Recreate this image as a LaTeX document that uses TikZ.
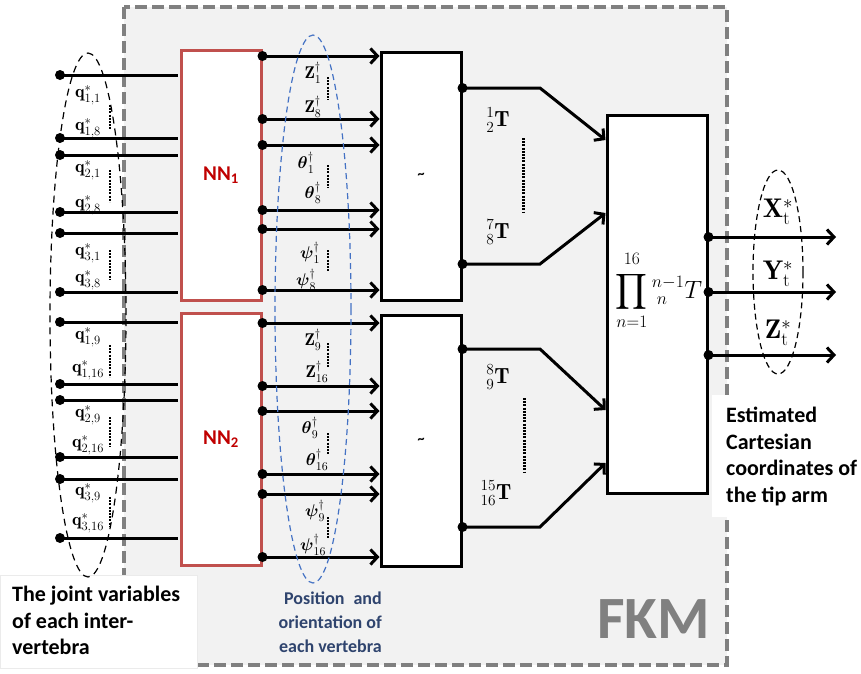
\RequirePackage{fix-cm}
\documentclass[tikz,border=0pt]{standalone}
\usepackage{mathtools}
\usepackage{fontspec}
\usepackage{tikz}
\usetikzlibrary{arrows.meta}
\usetikzlibrary{calc}
\newfontfamily\calibri{Carlito}
\definecolor{nnred}{RGB}{192,80,77}
\definecolor{nntext}{RGB}{192,0,0}
\definecolor{fkmgray}{RGB}{128,128,128}
\definecolor{fkmfill}{RGB}{242,242,242}
\definecolor{posblue}{RGB}{68,114,196}
\definecolor{postext}{RGB}{47,68,110}
\tikzset{
  blockbox/.style={draw=black, line width=3pt, fill=white, minimum width=80pt, inner sep=0pt},
  nnbox/.style={draw=nnred, line width=3pt, fill=white, minimum width=80pt, inner sep=0pt,
    text=nntext, font=\calibri\bfseries\fontsize{21}{24}\selectfont},
  link/.style={line width=3pt, shorten >=1.5pt},
  arrowlink/.style={line width=3pt, -{Straight Barb[length=7pt,width=15pt]}},
  vdots/.style={line width=2.5pt, dash pattern=on 2pt off 1.2pt},
  qlabel/.style={font=\fontsize{18}{20}\selectfont, inner sep=0pt},
  plabel/.style={font=\fontsize{17}{20}\selectfont, inner sep=0pt},
  tlabel/.style={font=\fontsize{22}{24}\selectfont, inner sep=0pt},
  xlabel/.style={font=\fontsize{27}{30}\selectfont, inner sep=0pt},
  note/.style={font=\calibri\bfseries\fontsize{22}{26.6}\selectfont, inner sep=0pt, align=left},
}
\begin{document}
\begin{tikzpicture}[x=1pt,y=-1pt]
\useasboundingbox (0,0) rectangle (861,673);

\draw[fkmgray, line width=4pt, dash pattern=on 12pt off 5pt, fill=fkmfill] (124,7) rectangle (727,665);
\fill[white, draw=black!8, line width=0.5pt] (0,575) rectangle (197,668);
\fill[white] (712,395) rectangle (861,517);

\node[nnbox, minimum height=250pt] (nnA) at (221,175) {NN\textsubscript{1}};
\node[nnbox, minimum height=252pt] (nnB) at (221,439) {NN\textsubscript{2}};
\node[blockbox, minimum height=248pt] (tilA) at (421,176) {\calibri\bfseries\fontsize{14}{14}\selectfont\char`\~};
\node[blockbox, minimum height=251pt] (tilB) at (421,440.5) {\calibri\bfseries\fontsize{14}{14}\selectfont\char`\~};
\node[blockbox, minimum width=100pt, minimum height=378pt] (prod) at (657,304) {};

% joint variables
\foreach \y [count=\i] in {75,138,155,212,233,292}{
  \coordinate (qa\i) at (60,\y);
  \draw[link] (qa\i) -- (qa\i -| nnA.west);
  \fill (qa\i) circle (5pt);
}
\foreach \y [count=\i] in {322,384,400,457,479,538}{
  \coordinate (qb\i) at (60,\y);
  \draw[link] (qb\i) -- (qb\i -| nnB.west);
  \fill (qb\i) circle (5pt);
}

% position and orientation
\foreach \y [count=\i] in {56,119,145,210,229,290}{
  \coordinate (pa\i) at (nnA.east |- 0,\y);
  \draw[arrowlink] (pa\i) -- (pa\i -| tilA.west);
  \fill (pa\i) circle (5pt);
}
\foreach \y [count=\i] in {323,386,411,474,494,557}{
  \coordinate (pb\i) at (nnB.east |- 0,\y);
  \draw[arrowlink] (pb\i) -- (pb\i -| tilB.west);
  \fill (pb\i) circle (5pt);
}

% transformations
\coordinate (ta1) at (tilA.east |- 0,88);
\coordinate (ta2) at (tilA.east |- 0,264);
\coordinate (tb1) at (tilB.east |- 0,349);
\coordinate (tb2) at (tilB.east |- 0,527);
\draw[arrowlink] (ta1) -- (540,88) -- (prod.west |- 0,140);
\draw[arrowlink] (ta2) -- (540,264) -- (prod.west |- 0,213);
\draw[arrowlink] (tb1) -- (540,349) -- (prod.west |- 0,410);
\draw[arrowlink] (tb2) -- (540,527) -- (prod.west |- 0,463);
\foreach \c in {ta1,ta2,tb1,tb2}
  \fill (\c) circle (5pt);

% tip coordinates
\foreach \y/\n in {237/x,292/y,355/z}{
  \coordinate (o\n) at (prod.east |- 0,\y);
  \coordinate (e\n) at (836,\y);
  \draw[arrowlink] (o\n) -- (e\n);
  \fill (o\n) circle (5pt);
}

\draw[dash pattern=on 7pt off 5pt, line width=1.2pt] (88,315) ellipse [x radius=38pt, y radius=262pt];
\draw[posblue, dash pattern=on 6pt off 4pt, line width=1.2pt] (313,309) ellipse [x radius=38pt, y radius=274pt];
\draw[dash pattern=on 6pt off 4pt, line width=1.2pt] (778,272) ellipse [x radius=25pt, y radius=102pt];

\foreach \y/\t in {95/{1,1},128/{1,8},170/{2,1},205/{2,8},253/{3,1},280/{3,8},
                   337/{1,9},370/{1,16},415/{2,9},445/{2,16},493/{3,9},523/{3,16}}
  \node[qlabel] at (88,\y) {$\mathbf{q}^{*}_{\t}$};
\foreach \a/\b in {105/130,170/202,250/280,345/377,417/447,497/527}
  \draw[vdots] (110,\a) -- (110,\b);

\node[plabel] at (313,73) {$\mathbf{Z}^{\dagger}_{1}$};
\node[plabel] at (313,107) {$\mathbf{Z}^{\dagger}_{8}$};
\node[plabel] at (306,163) {$\boldsymbol{\theta}^{\dagger}_{1}$};
\node[plabel] at (313,193) {$\boldsymbol{\theta}^{\dagger}_{8}$};
\node[plabel] at (310,253) {$\boldsymbol{\psi}^{\dagger}_{1}$};
\node[plabel] at (306,280) {$\boldsymbol{\psi}^{\dagger}_{8}$};
\node[plabel] at (313,340) {$\mathbf{Z}^{\dagger}_{9}$};
\node[plabel] at (317,372) {$\mathbf{Z}^{\dagger}_{16}$};
\node[plabel] at (310,428) {$\boldsymbol{\theta}^{\dagger}_{9}$};
\node[plabel] at (317,460) {$\boldsymbol{\theta}^{\dagger}_{16}$};
\node[plabel] at (315,511) {$\boldsymbol{\psi}^{\dagger}_{9}$};
\node[plabel] at (313,545) {$\boldsymbol{\psi}^{\dagger}_{16}$};
\foreach \a/\b in {77/100,165/188,250/272,343/367,433/455,517/538}
  \draw[vdots] (328,\a) -- (328,\b);

\node[tlabel] at (498,120) {$\prescript{1}{2}{\mathbf{T}}$};
\node[tlabel] at (498,232) {$\prescript{7}{8}{\mathbf{T}}$};
\node[tlabel] at (498,377) {$\prescript{8}{9}{\mathbf{T}}$};
\node[tlabel] at (496,493) {$\prescript{15}{16}{\mathbf{T}}$};
\draw[vdots, line width=3pt] (523,138) -- (523,212);
\draw[vdots, line width=3pt] (524,398) -- (524,472);

\node[font=\fontsize{25}{28}\selectfont, inner sep=0pt] at (659,290) {$\displaystyle\prod_{n=1}^{\raisebox{3pt}{$\scriptstyle 16$}}{}^{n-1}_{\;n}T$};

\node[xlabel] at (778,212) {$\mathbf{X}^{*}_{\mathrm{t}}$};
\node[xlabel] at (778,274) {$\mathbf{Y}^{*}_{\mathrm{t}}$};
\node[xlabel] at (778,333) {$\mathbf{Z}^{*}_{\mathrm{t}}$};

\node[note, anchor=north west] (jointtxt) at (12,586) {The joint variables\\of each inter-\\vertebra};
\node[note, anchor=north west] (tiptxt) at (726,407) {Estimated\\Cartesian\\coordinates of\\the tip arm};
\node[note, align=right, anchor=north east, text=postext, font=\calibri\bfseries\fontsize{18}{24}\selectfont] (postxt) at (382,592) {Position\enspace and\\orientation of\\each vertebra};
\node[anchor=base east, inner sep=0pt, text=fkmgray, font=\calibri\bfseries\fontsize{60}{60}\selectfont] (fkm) at (710,638) {FKM};

\end{tikzpicture}
\end{document}
